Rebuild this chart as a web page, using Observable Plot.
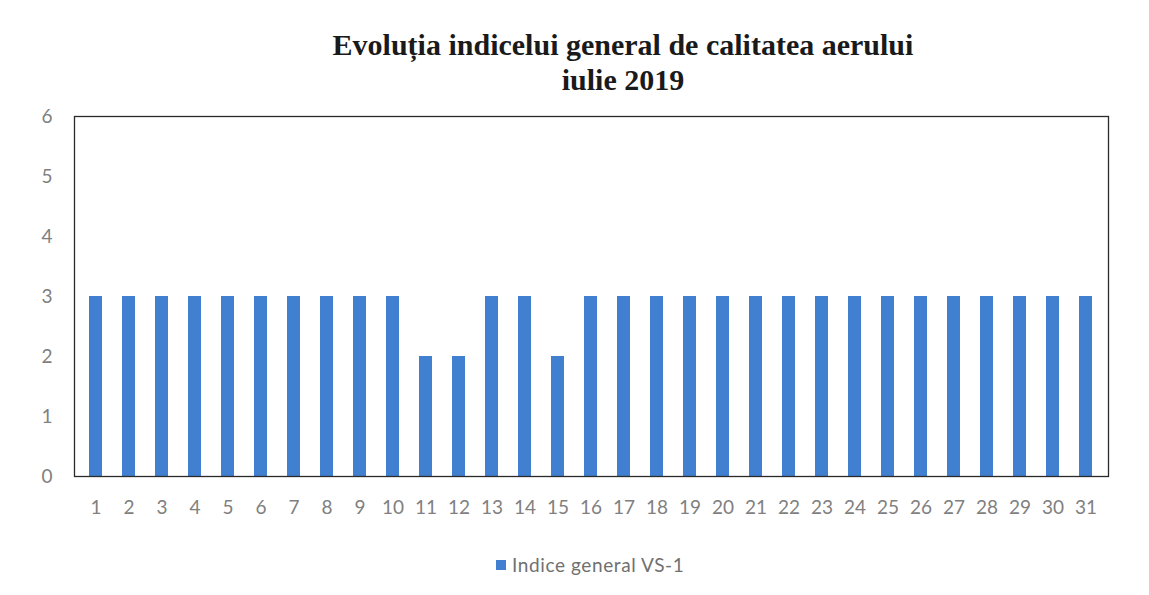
<!DOCTYPE html>
<html>
<head>
<meta charset="utf-8">
<script src="https://cdn.jsdelivr.net/npm/d3@7"></script>
<script src="https://cdn.jsdelivr.net/npm/@observablehq/plot@0.6"></script>
<style>
  html, body { margin: 0; padding: 0; background: #fff; }
  #wrap { position: relative; width: 1149px; height: 595px; overflow: hidden; }
  #title { position: absolute; left: 0; top: 27px; width: 1246px; text-align: center;
    font-family: "Liberation Serif", "DejaVu Serif", serif; font-weight: bold; font-size: 30px;
    line-height: 35px; color: #1a1a1a; }
  #chart { position: absolute; left: 0; top: 100px; }
  #legend { position: absolute; top: 553px; left: 496px; font-family: Lato, "Open Sans", sans-serif;
    font-size: 19px; letter-spacing: 0.6px; color: #707070; display: flex; align-items: center; }
  #legend .sw { width: 10px; height: 10px; background: #4180d0; margin-right: 6px; }
</style>
</head>
<body>
<div id="wrap">
  <div id="title">Evoluția indicelui general de calitatea aerului<br>iulie 2019</div>
  <div id="chart"></div>
  <div id="legend"><span class="sw"></span><span>Indice general VS-1</span></div>
</div>
<script>
const days = d3.range(1, 32);
const values = [3,3,3,3,3,3,3,3,3,3, 2,2,3,3,2, 3,3,3,3,3,3,3,3,3,3,3,3,3,3,3,3];
const yTicks = [0,1,2,3,4,5,6];
const seriesName = "Indice general VS-1";

const data = days.map((d, i) => ({day: d, value: values[i]}));

const chart = Plot.plot({
  width: 1149,
  height: 430,
  marginLeft: 74,
  marginRight: 41,
  marginTop: 16,
  marginBottom: 54,
  style: {fontFamily: "Lato, 'Open Sans', sans-serif", fontSize: "19px", color: "#808080", background: "transparent"},
  x: {domain: days, paddingInner: 0.6, paddingOuter: 0.3, label: null, tickSize: 0, tickPadding: 24},
  y: {domain: [0, 6], ticks: yTicks, tickFormat: "d", label: null, tickSize: 0, tickPadding: 22},
  marks: [
    Plot.barY(data, {x: "day", y: "value", fill: "#4180d0"}),
    Plot.frame({stroke: "#2a2a2a", strokeWidth: 1.3})
  ]
});
document.getElementById("chart").appendChild(chart);
</script>
</body>
</html>
